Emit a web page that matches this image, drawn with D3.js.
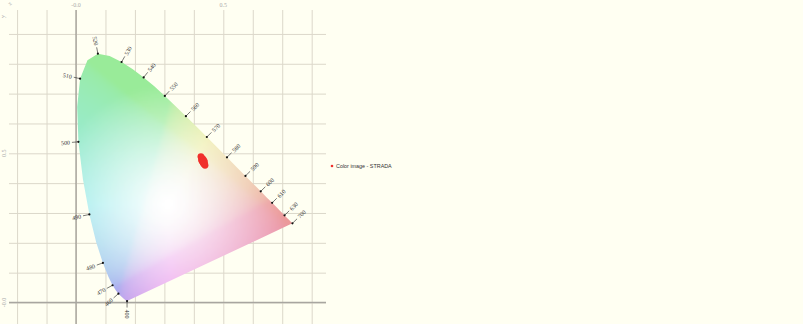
<!DOCTYPE html>
<html>
<head>
<meta charset="utf-8">
<script src="https://cdn.jsdelivr.net/npm/d3@7"></script>
<style>
  body { margin: 0; background: #fffff2; }
  svg { display: block; }
</style>
</head>
<body>
<div id="chart"></div>
<script>
// CIE 1931 spectral locus, 5 nm steps
const wavelengths = [400, 405, 410, 415, 420, 425, 430, 435, 440, 445, 450, 455, 460, 465, 470, 475, 480, 485, 490, 495,
    500, 505, 510, 515, 520, 525, 530, 535, 540, 545, 550, 555, 560, 565, 570, 575, 580, 585, 590, 595,
    600, 605, 610, 615, 620, 625, 630, 635, 640, 645, 650, 655, 660, 665, 670, 675, 680, 685, 690, 695, 700];
const locusX = [0.1733, 0.1730, 0.1726, 0.1721, 0.1714, 0.1703, 0.1689, 0.1669, 0.1644, 0.1611, 0.1566, 0.1510, 0.1440, 0.1355, 0.1241, 0.1096, 0.0913, 0.0687, 0.0454, 0.0235,
    0.0082, 0.0039, 0.0139, 0.0389, 0.0743, 0.1142, 0.1547, 0.1929, 0.2296, 0.2658, 0.3016, 0.3373, 0.3731, 0.4087, 0.4441, 0.4788, 0.5125, 0.5448, 0.5752, 0.6029,
    0.6270, 0.6482, 0.6658, 0.6801, 0.6915, 0.7006, 0.7079, 0.7140, 0.7190, 0.7230, 0.7260, 0.7283, 0.7300, 0.7311, 0.7320, 0.7327, 0.7334, 0.7340, 0.7344, 0.7346, 0.7347];
const locusY = [0.0048, 0.0048, 0.0048, 0.0048, 0.0051, 0.0058, 0.0069, 0.0086, 0.0109, 0.0138, 0.0177, 0.0227, 0.0297, 0.0399, 0.0578, 0.0868, 0.1327, 0.2007, 0.2950, 0.4127,
    0.5384, 0.6548, 0.7502, 0.8120, 0.8338, 0.8262, 0.8059, 0.7816, 0.7543, 0.7243, 0.6923, 0.6589, 0.6245, 0.5896, 0.5547, 0.5202, 0.4866, 0.4544, 0.4242, 0.3965,
    0.3725, 0.3514, 0.3340, 0.3197, 0.3083, 0.2993, 0.2920, 0.2859, 0.2809, 0.2770, 0.2740, 0.2717, 0.2700, 0.2689, 0.2680, 0.2673, 0.2666, 0.2660, 0.2656, 0.2654, 0.2653];
const labelledWl = [400, 460, 470, 480, 490, 500, 510, 520, 530, 540, 550, 560, 570, 580, 590, 600, 610, 630, 700];

// grid / tick values
const gridX = [-0.2, -0.1, 0, 0.1, 0.2, 0.3, 0.4, 0.5, 0.6, 0.7, 0.8];
const gridY = [0, 0.1, 0.2, 0.3, 0.4, 0.5, 0.6, 0.7, 0.8, 0.9];
const tickVals = [0, 0.5];
const tickText = ["-0.0", "0.5"];

// image colours (chromaticity of the STRADA image pixels)
const imgX = [0.424, 0.426, 0.427, 0.428, 0.429, 0.430, 0.431, 0.432, 0.433, 0.434, 0.435, 0.436, 0.438, 0.430, 0.434];
const imgY = [0.489, 0.478, 0.484, 0.474, 0.479, 0.481, 0.475, 0.468, 0.470, 0.476, 0.466, 0.471, 0.460, 0.472, 0.464];
const seriesName = "Color image - STRADA";

const width = 803, height = 324;
const plot = { left: 9, right: 326, top: 10, bottom: 324 };

const x = d3.scaleLinear().domain([0, 0.5]).range([76, 223.3]);
const y = d3.scaleLinear().domain([0, 0.5]).range([302.5, 153.3]);

const svg = d3.select("#chart").append("svg")
    .attr("width", width)
    .attr("height", height);

svg.append("rect").attr("width", width).attr("height", height).attr("fill", "#fffff2");

// grid
svg.append("g")
    .attr("transform", `translate(0,${plot.bottom})`)
    .call(d3.axisBottom(x).tickValues(gridX).tickSize(-(plot.bottom - plot.top)).tickFormat(""))
    .call(g => g.select(".domain").remove())
    .call(g => g.selectAll("line").attr("stroke", "#dcd8ca"));

svg.append("g")
    .attr("transform", `translate(${plot.left},0)`)
    .call(d3.axisLeft(y).tickValues(gridY).tickSize(-(plot.right - plot.left)).tickFormat(""))
    .call(g => g.select(".domain").remove())
    .call(g => g.selectAll("line").attr("stroke", "#dcd8ca"));

// zero lines
svg.append("line")
    .attr("x1", x(0)).attr("x2", x(0)).attr("y1", plot.top).attr("y2", plot.bottom)
    .attr("stroke", "#9a9890").attr("stroke-width", 1.2);
svg.append("line")
    .attr("x1", plot.left).attr("x2", plot.right).attr("y1", y(0)).attr("y2", y(0))
    .attr("stroke", "#a8a6a0").attr("stroke-width", 1.6);

// tick labels
svg.append("g").selectAll("text")
    .data(tickVals)
    .join("text")
    .attr("x", d => x(d))
    .attr("y", 7)
    .attr("text-anchor", "middle")
    .attr("font-family", "Liberation Serif, serif")
    .attr("font-size", "6px")
    .attr("fill", "#aaa")
    .text((d, i) => tickText[i]);

svg.append("g").selectAll("text")
    .data(tickVals)
    .join("text")
    .attr("transform", d => `translate(6,${y(d)}) rotate(-90)`)
    .attr("text-anchor", "middle")
    .attr("font-family", "Liberation Serif, serif")
    .attr("font-size", "6px")
    .attr("fill", "#aaa")
    .text((d, i) => tickText[i]);

svg.append("text").attr("transform", "translate(10,6) rotate(-45)")
    .attr("font-family", "Liberation Serif, serif").attr("font-size", "6px").attr("fill", "#aaa").text("x");
svg.append("text").attr("transform", "translate(5,18) rotate(-90)")
    .attr("font-family", "Liberation Serif, serif").attr("font-size", "6px").attr("fill", "#aaa").text("y");

// spectral locus fill
const locus = wavelengths.map((w, i) => [locusX[i], locusY[i]]);
const locusPath = d3.line().x(d => x(d[0])).y(d => y(d[1])).curve(d3.curveLinearClosed)(locus);

svg.append("clipPath").attr("id", "locusClip").append("path").attr("d", locusPath);

const defs = svg.append("defs");
defs.append("filter").attr("id", "soft")
    .attr("x", "-5%").attr("y", "-5%").attr("width", "110%").attr("height", "110%")
    .append("feGaussianBlur").attr("stdDeviation", 1.5);

// pale chromaticity colour, fading to white near the white point
const whitePt = [0.3127, 0.329];
function chromaColor(cx, cy) {
    if (cy <= 0.001) cy = 0.001;
    const X = cx / cy, Y = 1, Z = (1 - cx - cy) / cy;
    let r = 3.2406 * X - 1.5372 * Y - 0.4986 * Z;
    let g = -0.9689 * X + 1.8758 * Y + 0.0415 * Z;
    let b = 0.0557 * X - 0.2040 * Y + 1.0570 * Z;
    r = Math.max(r, 0); g = Math.max(g, 0); b = Math.max(b, 0);
    const m = Math.max(r, g, b) || 1;
    const gam = v => { v = v / m; return v <= 0.0031308 ? 12.92 * v : 1.055 * Math.pow(v, 1 / 2.4) - 0.055; };
    const dist = Math.hypot(cx - whitePt[0], cy - whitePt[1]);
    const w = Math.pow(Math.min(1, dist / 0.4), 1.1);
    const a = 0.4, k = 0.8;
    const mix = v => Math.round(255 - w * a * 255 * (1 - gam(v) * k));
    return `rgb(${mix(r)},${mix(g)},${mix(b)})`;
}

const cell = 3;
const x0 = Math.floor(x(0) - 6), x1 = Math.ceil(x(0.74) + 4);
const y0 = Math.floor(y(0.84) - 4), y1 = Math.ceil(y(0) + 4);
const cells = [];
for (let px = x0; px < x1; px += cell) {
    for (let py = y0; py < y1; py += cell) {
        cells.push([px, py]);
    }
}

svg.append("g")
    .attr("clip-path", "url(#locusClip)")
    .append("g")
    .attr("filter", "url(#soft)")
    .selectAll("rect")
    .data(cells)
    .join("rect")
    .attr("x", d => d[0])
    .attr("y", d => d[1])
    .attr("width", cell + 0.5)
    .attr("height", cell + 0.5)
    .attr("fill", d => chromaColor(x.invert(d[0] + cell / 2), y.invert(d[1] + cell / 2)));

// wavelength ticks and labels
const center = [0.33, 0.33];
const marks = labelledWl.map(w => {
    const i = wavelengths.indexOf(w);
    const a = locus[Math.max(i - 1, 0)], b = locus[Math.min(i + 1, locus.length - 1)];
    const tx = x(b[0]) - x(a[0]), ty = y(b[1]) - y(a[1]);
    let nx = -ty, ny = tx;
    const px = x(locus[i][0]) - x(center[0]), py = y(locus[i][1]) - y(center[1]);
    if (nx * px + ny * py < 0) { nx = -nx; ny = -ny; }
    const len = Math.hypot(nx, ny) || 1;
    return { w, px: x(locus[i][0]), py: y(locus[i][1]), nx: nx / len, ny: ny / len };
});

const wl = svg.append("g");
wl.selectAll("line")
    .data(marks)
    .join("line")
    .attr("x1", d => d.px).attr("y1", d => d.py)
    .attr("x2", d => d.px + d.nx * 6.5).attr("y2", d => d.py + d.ny * 6.5)
    .attr("stroke", "#222").attr("stroke-width", 0.6);
wl.selectAll("circle")
    .data(marks)
    .join("circle")
    .attr("cx", d => d.px).attr("cy", d => d.py)
    .attr("r", 1.1).attr("fill", "#111");
wl.selectAll("text")
    .data(marks)
    .join("text")
    .attr("transform", d => {
        const ang = Math.atan2(d.ny, d.nx) * 180 / Math.PI;
        const rot = d.nx >= 0 ? ang : ang + 180;
        return `translate(${d.px + d.nx * 8.5},${d.py + d.ny * 8.5}) rotate(${rot})`;
    })
    .attr("text-anchor", d => d.nx >= 0 ? "start" : "end")
    .attr("dy", "0.35em")
    .attr("font-family", "Liberation Serif, serif")
    .attr("font-size", "6px")
    .attr("fill", "#333")
    .text(d => d.w);

// image colour points
svg.append("g")
    .selectAll("circle")
    .data(imgX)
    .join("circle")
    .attr("cx", d => x(d))
    .attr("cy", (d, i) => y(imgY[i]))
    .attr("r", 3.4)
    .attr("fill", "#f0302c");

// legend
svg.append("circle").attr("cx", 332).attr("cy", 166).attr("r", 1.3).attr("fill", "#f0302c");
svg.append("text")
    .attr("x", 336).attr("y", 166).attr("dy", "0.35em")
    .attr("font-family", "Liberation Sans, Arial, sans-serif")
    .attr("font-size", "5.4px")
    .attr("fill", "#333")
    .text(seriesName);
</script>
</body>
</html>
